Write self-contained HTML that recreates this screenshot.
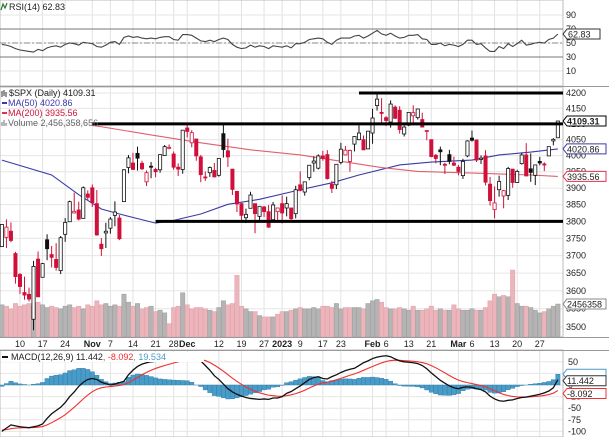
<!DOCTYPE html>
<html><head><meta charset="utf-8"><style>
html,body{margin:0;padding:0;background:#fff;}
svg{display:block;font-family:"Liberation Sans",sans-serif;}
</style></head><body>
<svg id="c" width="609" height="437" viewBox="0 0 609 437" xmlns="http://www.w3.org/2000/svg"></svg>
<script>
// ---- data ----
const opens=[3726,3753,3771,3706,3646,3595,3590,3521,3690,3638,3746,3703,3689,3657,3762,3799,3825,3834,3809,3882,
3901,3853,3733,3766,3780,3818,3810,3859,3963,3977,4007,3976,3919,3967,3957,3956,4000,4023,4005,3964,3957,
4087,4040,4052,3996,3934,3947,3954,3939,4069,4015,3958,3890,3853,3811,3839,3853,3815,3843,3829,3805,3829,
3853,3840,3840,3823,3910,3888,3932,3977,3961,3999,4003,3912,3910,3979,4002,3982,4036,4050,4050,4021,
4071,4159,4137,4120,4106,4154,4144,4068,4096,4126,4120,4114,4077,4050,4001,4018,3973,4003,3977,
3964,3938,3999,4055,4049,3988,3999,3912,3835,3895,3876,3878,3958,3917,3975,4002,3959,3939,3982,3974,3999,4046,4056];
const highs=[3791,3806,3797,3711,3650,3640,3609,3685,3712,3679,3762,3728,3736,3757,3810,3862,3886,3859,3905,3893,
3911,3894,3751,3796,3813,3860,3819,3958,4002,4009,4028,3984,3954,3980,3962,4004,4033,4035,4013,3976,4080,
4101,4080,4053,4002,3951,3966,3977,3991,4101,4053,3959,3890,3855,3838,3889,3853,3845,3846,3849,3858,3840,
3878,3874,3840,3907,3951,3919,3970,3998,4004,4015,4017,3922,3973,4040,4030,4019,4061,4095,4063,4077,
4149,4196,4183,4125,4176,4160,4157,4095,4138,4160,4148,4136,4081,4050,4005,4028,3978,4018,3997,
3971,3990,4048,4079,4051,4001,4017,3934,3905,3938,3894,3965,3959,3956,4009,4039,4007,3972,3996,3979,4027,4055,4110];
const lows=[3726,3722,3739,3620,3591,3575,3570,3491,3584,3638,3687,3666,3657,3647,3740,3799,3824,3803,3808,3863,
3843,3758,3699,3722,3764,3786,3745,3859,3945,3956,3954,3955,3906,3930,3933,3947,3999,4020,3956,3937,3944,
4057,4026,3984,3918,3922,3934,3933,3935,3994,3965,3879,3828,3800,3795,3839,3765,3797,3813,3781,3805,3801,
3794,3815,3802,3809,3890,3877,3924,3950,3957,3984,3926,3885,3897,3973,4001,3950,4013,4048,4017,4020,
4037,4143,4098,4093,4088,4116,4069,4060,4093,4095,4114,4089,4048,3995,3976,3970,3943,3973,3968,
3939,3928,3995,4044,3980,3974,3908,3847,3809,3874,3839,3864,3901,3916,3972,3937,3919,3909,3970,3952,3999,4032,4056];
const closes=[3791,3783,3744,3640,3612,3588,3577,3669,3583,3677,3720,3695,3666,3752,3797,3859,3830,3807,3901,3872,
3856,3760,3720,3771,3807,3828,3749,3956,3993,3957,3992,3959,3947,3965,3950,4003,4028,4026,3964,3958,4080,
4076,4072,3999,3941,3933,3963,3934,3991,4019,3996,3896,3852,3818,3821,3879,3823,3845,3829,3783,3849,3840,
3825,3853,3808,3895,3893,3919,3970,3983,3999,3991,3929,3899,3973,4020,4017,4016,4060,4071,4018,4077,
4119,4180,4136,4111,4164,4118,4082,4090,4137,4136,4148,4090,4079,3997,3991,4012,3970,3982,3970,
3951,3982,4046,4048,3986,3992,3918,3862,3855,3920,3892,3960,3917,3951,4002,3937,3948,3971,3977,3971,4028,4051,4109.31];
const prevClose0=3678;
const volumes=[2.4,2.3,2.1,2.5,2.3,2.4,2.5,2.3,2.6,2.4,2.2,2.3,2.2,2.1,2.3,2.4,2.2,2.3,2.1,2.4,
2.3,2.7,2.4,2.5,2.3,2.4,2.3,3.2,2.6,2.3,2.5,2.1,2.2,2.3,1.9,2.0,1.8,1.0,2.2,2.3,3.3,
2.4,2.1,2.2,2.2,2.1,2.0,1.9,2.2,2.7,2.4,2.5,4.6,2.3,2.1,1.9,1.9,1.6,1.5,1.5,1.5,1.7,
1.9,1.9,2.0,2.1,2.2,2.1,2.1,2.2,2.1,2.3,2.3,2.2,2.5,2.1,2.2,2.2,2.2,2.2,2.1,2.5,
2.7,2.8,2.6,2.2,2.1,2.1,2.2,2.1,2.0,2.3,2.0,2.0,2.1,2.3,2.0,2.1,2.0,2.0,2.4,
2.1,2.0,2.0,2.1,2.0,2.0,2.2,2.7,3.2,3.0,3.1,3.0,5.0,2.5,2.3,2.3,2.2,2.0,1.8,1.9,2.1,2.3,2.46];
const rsiVals=[48,47,45,42,40,39,38,37,41,39,43,45,46,44,48,50,49,47,51,50,
49,45,44,47,51,52,48,58,60,58,59,57,56,57,56,58,59,59,55,54,62,
62,61,57,53,52,54,52,55,57,55,48,44,42,43,47,44,46,45,42,46,45,
44,46,43,49,49,51,55,56,57,56,51,48,54,57,57,57,60,61,57,60,
64,68,63,61,64,60,57,58,61,61,62,56,55,48,48,50,46,48,47,
45,48,54,54,48,49,43,38,38,45,42,49,45,49,54,47,48,50,51,50,55,57,62.83];
const macdVals=[-100,-93,-86,-88,-90,-91,-92,-90,-88,-84,-72,-62,-55,-48,-38,-25,-15,-3,6,12,14,12,6,3,0,2,5,8,22,32,40,45,48,50,51,52,54,56,58,60,62,64,62,56,52,42,32,20,12,2,-8,-15,-20,-24,-27,-29,-30,-31,-30,-31,-28,-28,-25,-18,-14,-8,-2,5,12,16,18,14,13,18,22,27,31,34,36,42,48,52,57,60,62,63,61,56,52,50,49,48,46,42,35,26,18,10,4,-2,-6,-8,-5,-4,-5,-8,-10,-15,-24,-30,-34,-35,-33,-32,-29,-27,-26,-24,-22,-20,-17,-13,-6,11.442];
const signalSeed=-97;
const ma50Idx=[0,11,17,22,26,34,38,44,50,57,66,73,79,88,95,104,110,117,123];
const ma50Vals=[3986,3940,3880,3837,3822,3795,3803,3822,3851,3866,3895,3916,3940,3971,3980,3986,4002,4011,4020.86];
const ma200Idx=[20,22,33,44,55,66,77,84,92,106,117,123];
const ma200Vals=[4095,4091,4065,4040,4018,4002,3978,3963,3951,3945,3940,3935.56];
const priceTicks=[4200,4150,4100,4050,4000,3950,3900,3850,3800,3750,3700,3650,3600,3550,3500];
const rsiTicks=[90,70,50,30,10];
const macdTicks=[50,25,0,-25,-50,-75,-100];
const dateLabels=["10","17","24","Nov","7","14","21","28","Dec","12","19","27","2023","9","17","23","Feb","6","13","21","Mar","6","13","20","27"];
const dateIdx=[4,9,14,20,24,29,34,38,41,48,53,58,62,66,71,75,82,85,90,95,101,104,109,114,119];
const srLevels=[4200,4100,3800];
const srStartIdx=[79,20,34];

// ---- scales ----
const NS="http://www.w3.org/2000/svg";
const svg=document.getElementById('c');
const PW=563;
const xOf=i=>1.9+i*4.52;
const yP=v=>93+1283*Math.log(4200/v);
const yR=v=>43-(v-50)*0.7;
const yM=v=>385-v*11.6/25;
const yV=v=>337-v*13.4;
function mk(tag,attrs,parent){const e=document.createElementNS(NS,tag);for(const k in attrs)e.setAttribute(k,attrs[k]);(parent||svg).appendChild(e);return e;}
function txt(s,x,y,attrs,parent){const t=mk('text',Object.assign({x:x,y:y,'font-size':9,fill:'#222'},attrs||{}),parent);t.textContent=s;return t;}

const defs=mk('defs',{});
const cp=mk('clipPath',{id:'pclip'},defs);mk('rect',{x:0,y:87,width:PW,height:250},cp);
const cr=mk('clipPath',{id:'rclip'},defs);mk('rect',{x:0,y:0,width:PW,height:86},cr);
const cm=mk('clipPath',{id:'mclip'},defs);mk('rect',{x:0,y:350,width:PW,height:87},cm);

// grid
const grid=mk('g',{});

dateIdx.forEach(i=>{const x=xOf(i);[[0,86],[87,337],[350,437]].forEach(r=>mk('line',{x1:x,x2:x,y1:r[0],y2:r[1],stroke:'#e2e2e2','stroke-width':1},grid));});
priceTicks.forEach(v=>mk('line',{x1:0,x2:PW,y1:yP(v),y2:yP(v),stroke:'#e6e6e6'},grid));
rsiTicks.forEach(v=>mk('line',{x1:0,x2:PW,y1:yR(v),y2:yR(v),stroke:'#e6e6e6'},grid));
macdTicks.forEach(v=>mk('line',{x1:0,x2:PW,y1:yM(v),y2:yM(v),stroke:'#e6e6e6'},grid));

// panel borders
[[0,0,86],[0,87,250],[0,350,87]].forEach(p=>mk('rect',{x:0,y:p[1],width:PW,height:p[2],fill:'none',stroke:'#bbb'}));
mk('line',{x1:0,x2:609,y1:86.5,y2:86.5,stroke:'#999'});
mk('line',{x1:0,x2:609,y1:337.5,y2:337.5,stroke:'#999'});
mk('line',{x1:0,x2:609,y1:350.5,y2:350.5,stroke:'#999'});

// ---- RSI ----
const rg=mk('g',{'clip-path':'url(#rclip)'});

mk('line',{x1:0,x2:PW,y1:yR(70),y2:yR(70),stroke:'#777'},rg);
mk('line',{x1:0,x2:PW,y1:yR(30),y2:yR(30),stroke:'#777'},rg);
mk('line',{x1:0,x2:PW,y1:yR(50),y2:yR(50),stroke:'#888','stroke-dasharray':'6,2,2,2'},rg);
const rl=mk('polyline',{points:rsiVals.map((v,i)=>xOf(i)+','+yR(v)).join(' '),fill:'none',stroke:'#444','stroke-width':1.1},rg);

rsiTicks.forEach(v=>txt(String(v),566,yR(v)+3,{}));
txt('RSI(14) 62.83',9,10,{'font-size':9});
mk('path',{d:'M1 10 L3 4 L5 8 L7 3',fill:'none',stroke:'#2a7a2a','stroke-width':1.2});
const rtag=mk('g',{});
mk('path',{d:`M563 ${yR(62.83)} l4 -5 h33 v10 h-33 z`,fill:'#fff',stroke:'#333'},rtag);
txt(String(rsiVals[rsiVals.length-1]),568,yR(62.83)+3.5,{},rtag);

// ---- price ----
const pg=mk('g',{'clip-path':'url(#pclip)'});

// volume
volumes.forEach((v,i)=>{
  const pc=i?closes[i-1]:prevClose0;
  const up=closes[i]>=pc;
  const b=mk('rect',{x:xOf(i)-2.2,y:yV(v),width:4.4,height:337-yV(v),fill:up?'#b4b4b4':'#ecb4bb',stroke:up?'#9c9c9c':'#dfa0a8','stroke-width':0.5},pg);
  
});
// moving averages
const m50=mk('polyline',{points:ma50Idx.map((ix,k)=>xOf(ix)+','+yP(ma50Vals[k])).join(' '),fill:'none',stroke:'#3a3aa8','stroke-width':1.1},pg);

const m200=mk('polyline',{points:ma200Idx.map((ix,k)=>xOf(ix)+','+yP(ma200Vals[k])).join(' '),fill:'none',stroke:'#e06070','stroke-width':1.1},pg);

// candles
closes.forEach((c,i)=>{
  const o=opens[i],h=highs[i],l=lows[i];
  const pc=i?closes[i-1]:prevClose0;
  const col=c>=pc?'#111':'#d0103a';
  const x=xOf(i);
  const g=mk('g',{},pg);
  
  mk('line',{x1:x,x2:x,y1:yP(h),y2:yP(l),stroke:col,'stroke-width':1},g);
  const top=yP(Math.max(o,c)),bot=yP(Math.min(o,c));
  mk('rect',{x:x-1.6,y:top,width:3.2,height:Math.max(1,bot-top),fill:c>o?'#fff':col,stroke:col,'stroke-width':0.8},g);
});
// support/resistance
srLevels.forEach((v,k)=>{
  const l=mk('line',{x1:xOf(srStartIdx[k]),x2:PW,y1:yP(v),y2:yP(v),stroke:'#000','stroke-width':3},pg);
  
});
priceTicks.forEach(v=>txt(String(v),566,yP(v)+3,{}));
// legend
const lg=mk('g',{});
txt('$SPX (Daily) 4109.31',9,96,{},lg);
mk('path',{d:'M2 91 v6 M4 90 v6 M6 92 v5',stroke:'#333'},lg);
mk('line',{x1:2,x2:7,y1:103,y2:103,stroke:'#3a3aa8','stroke-width':2},lg);
txt('MA(50) 4020.86',8,106,{fill:'#3a3aa8'},lg);
mk('line',{x1:2,x2:7,y1:113,y2:113,stroke:'#e03050','stroke-width':2},lg);
txt('MA(200) 3935.56',8,116,{fill:'#d0103a'},lg);
mk('path',{d:'M2 126 v-4 M4 126 v-6 M6 126 v-3',stroke:'#777'},lg);
txt('Volume 2,456,358,656',8,126,{fill:'#666'},lg);
// value tags
function tag(val,y,stroke,name){const g=mk('g',{});
  mk('path',{d:`M563 ${y} l4 -5 h39 v10 h-39 z`,fill:'#fff',stroke:stroke},g);txt(val,567,y+3.5,{'font-weight':stroke=='#000'?'bold':'normal'},g);}
tag('4109.31',yP(4109.31),'#000','price-tag');
tag('4020.86',yP(4020.86),'#3a3aa8','ma50-tag');
tag('3935.56',yP(3935.56),'#e03050','ma200-tag');
tag('2456358',yV(2.46),'#888','volume-tag');

// x axis
dateLabels.forEach((s,k)=>{const bold=isNaN(+s)||s=='2023';
  const t=txt(s,xOf(dateIdx[k]),347,{'text-anchor':'middle','font-weight':bold?'bold':'normal','font-size':9});
  });

// ---- MACD ----
const signal=[];let s=signalSeed;const a=2/10;
macdVals.forEach((v,i)=>{s=i?s+a*(v-s):signalSeed;signal.push(s);});
const mg=mk('g',{'clip-path':'url(#mclip)'});

macdVals.forEach((v,i)=>{const h=v-signal[i];const y0=yM(0),y1=yM(h);
  const b=mk('rect',{x:xOf(i)-2.2,y:Math.min(y0,y1),width:4.4,height:Math.abs(y1-y0),fill:'#4a9cc8',stroke:'#2a7aa8','stroke-width':0.4},mg);
  });
const sl=mk('polyline',{points:signal.map((v,i)=>xOf(i)+','+yM(v)).join(' '),fill:'none',stroke:'#f03030','stroke-width':1.1},mg);

const ml=mk('polyline',{points:macdVals.map((v,i)=>xOf(i)+','+yM(v)).join(' '),fill:'none',stroke:'#111','stroke-width':1.3},mg);

macdTicks.forEach(v=>txt(String(v),568,yM(v)+3,{}));
const ml2=mk('g',{});
mk('rect',{x:1,y:352,width:203,height:10,fill:'#fff'},ml2);
mk('line',{x1:2,x2:8,y1:357,y2:357,stroke:'#111','stroke-width':2},ml2);
const lt=txt('',11,360,{},ml2);
[['MACD(12,26,9) 11.442','#222'],[', -8.092','#f03030'],[', 19.534','#4a9cc8']].forEach(p=>{const ts=mk('tspan',{fill:p[1]},lt);ts.textContent=p[0];});
const lastH=macdVals[macdVals.length-1]-signal[signal.length-1];
mk('path',{d:`M563 ${yM(lastH)} l4 -5 h39 v10 h-39 z`,fill:'#fff',stroke:'#4a9cc8'});
tag('11.442',yM(macdVals[macdVals.length-1])+1,'#333','macd-tag');
tag('-8.092',yM(signal[signal.length-1])+3,'#f03030','signal-tag');
</script>
</body></html>
